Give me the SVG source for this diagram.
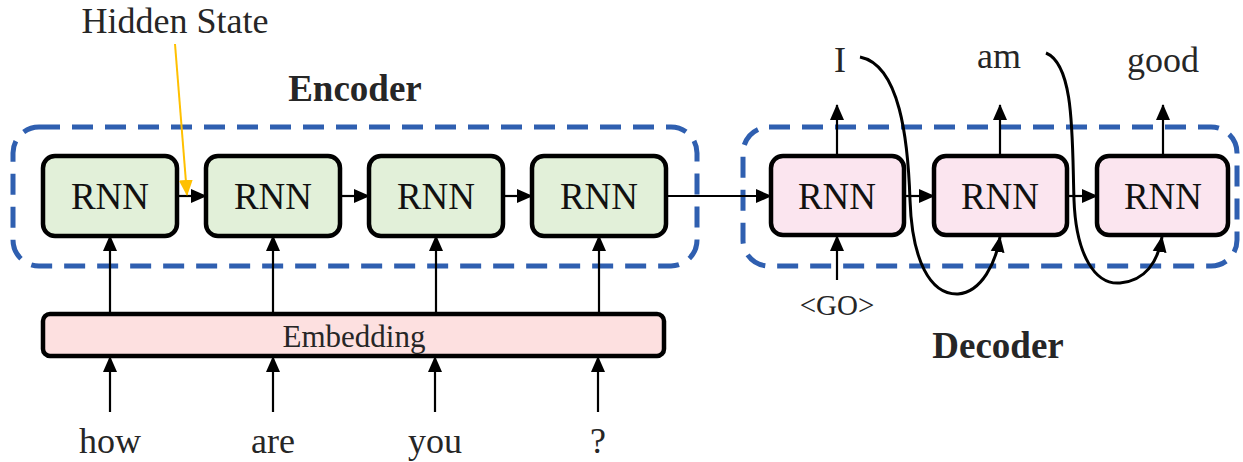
<svg xmlns="http://www.w3.org/2000/svg" width="1243" height="462" viewBox="0 0 1243 462">
<style>
.t{font-family:"Liberation Serif",serif;fill:#262626;text-anchor:middle}
.rnn{font-family:"Liberation Serif",serif;fill:#111;text-anchor:middle;font-size:37px}
.b{font-weight:bold;font-size:37px;fill:#262626}
.w{font-size:36px}
.enc{fill:#e2f0d9;stroke:#000;stroke-width:4.5}
.dec{fill:#fbe5ef;stroke:#000;stroke-width:4.5}
.dash{fill:none;stroke:#2f5fb0;stroke-width:5;stroke-dasharray:21 12}
.c{fill:none;stroke:#000;stroke-width:2.2}
.cc{fill:none;stroke:#000;stroke-width:3}
</style>
<defs>
<marker id="ah" markerUnits="userSpaceOnUse" markerWidth="16" markerHeight="16" viewBox="0 0 16 16" refX="15" refY="8" orient="auto"><path d="M0,1 L16,8 L0,15 Z" fill="#000"/></marker>
<marker id="ahy" markerUnits="userSpaceOnUse" markerWidth="16" markerHeight="16" viewBox="0 0 16 16" refX="15" refY="8" orient="auto"><path d="M0,1 L16,8 L0,15 Z" fill="#ffc000"/></marker>
</defs>
<g id="encoder-box"><rect class="dash" x="13" y="127" width="684" height="139" rx="26"/><text class="t b" x="355" y="101">Encoder</text></g>
<g id="decoder-box"><rect class="dash" x="743" y="127" width="494" height="139" rx="26"/><text class="t b" x="998" y="358">Decoder</text></g>
<g id="enc1"><rect class="enc" x="43" y="156" width="134" height="80" rx="12"/><text class="rnn" x="110" y="209">RNN</text></g>
<g id="enc2"><rect class="enc" x="206" y="156" width="134" height="80" rx="12"/><text class="rnn" x="273" y="209">RNN</text></g>
<g id="enc3"><rect class="enc" x="369" y="156" width="134" height="80" rx="12"/><text class="rnn" x="436" y="209">RNN</text></g>
<g id="enc4"><rect class="enc" x="532" y="156" width="134" height="80" rx="12"/><text class="rnn" x="599" y="209">RNN</text></g>
<g id="dec1"><rect class="dec" x="771" y="156" width="133" height="79" rx="12"/><text class="rnn" x="837" y="209">RNN</text></g>
<g id="dec2"><rect class="dec" x="934" y="156" width="133" height="79" rx="12"/><text class="rnn" x="1000" y="209">RNN</text></g>
<g id="dec3"><rect class="dec" x="1097" y="156" width="131" height="79" rx="12"/><text class="rnn" x="1163" y="209">RNN</text></g>
<g id="embedding"><rect x="43" y="314" width="621" height="42" rx="7" fill="#fde0e0" stroke="#000" stroke-width="4.5"/><text class="t" x="354" y="347" font-size="31">Embedding</text></g>
<g id="labels">
<text class="t w" x="175" y="33">Hidden State</text>
<text class="t w" x="110" y="453">how</text>
<text class="t w" x="273" y="453">are</text>
<text class="t w" x="435" y="453">you</text>
<text class="t w" x="598" y="453">?</text>
<text class="t w" x="840" y="72">I</text>
<text class="t w" x="999" y="68">am</text>
<text class="t w" x="1163" y="72">good</text>
<text class="t" x="837" y="315" font-size="29">&lt;GO&gt;</text>
</g>
<g id="connectors">
<path class="c" d="M177,196 H206" marker-end="url(#ah)"/>
<path class="c" d="M340,196 H369" marker-end="url(#ah)"/>
<path class="c" d="M503,196 H532" marker-end="url(#ah)"/>
<path class="c" d="M666,196 H771" marker-end="url(#ah)"/>
<path class="c" d="M904,196 H934" marker-end="url(#ah)"/>
<path class="c" d="M1067,196 H1097" marker-end="url(#ah)"/>
<path class="c" d="M110,314 V236" marker-end="url(#ah)"/>
<path class="c" d="M273,314 V236" marker-end="url(#ah)"/>
<path class="c" d="M436,314 V236" marker-end="url(#ah)"/>
<path class="c" d="M599,314 V236" marker-end="url(#ah)"/>
<path class="c" d="M110,412 V357" marker-end="url(#ah)"/>
<path class="c" d="M273,412 V357" marker-end="url(#ah)"/>
<path class="c" d="M435,412 V357" marker-end="url(#ah)"/>
<path class="c" d="M598,412 V357" marker-end="url(#ah)"/>
<path class="c" d="M837,156 V105" marker-end="url(#ah)"/>
<path class="c" d="M1000,156 V105" marker-end="url(#ah)"/>
<path class="c" d="M1163,156 V105" marker-end="url(#ah)"/>
<path class="c" d="M837,280 V236" marker-end="url(#ah)"/>
<path class="cc" d="M860,57 C900,65 908,140 910,200 C912,260 930,295 958,294 C982,292 996,262 1000,237" marker-end="url(#ah)"/>
<path class="cc" d="M1046,53 C1075,65 1072,140 1074,200 C1076,255 1095,285 1120,283 C1145,281 1158,262 1162,237" marker-end="url(#ah)"/>
<path d="M175,44 L187,195" fill="none" stroke="#ffc000" stroke-width="2" marker-end="url(#ahy)"/>
</g>
</svg>
